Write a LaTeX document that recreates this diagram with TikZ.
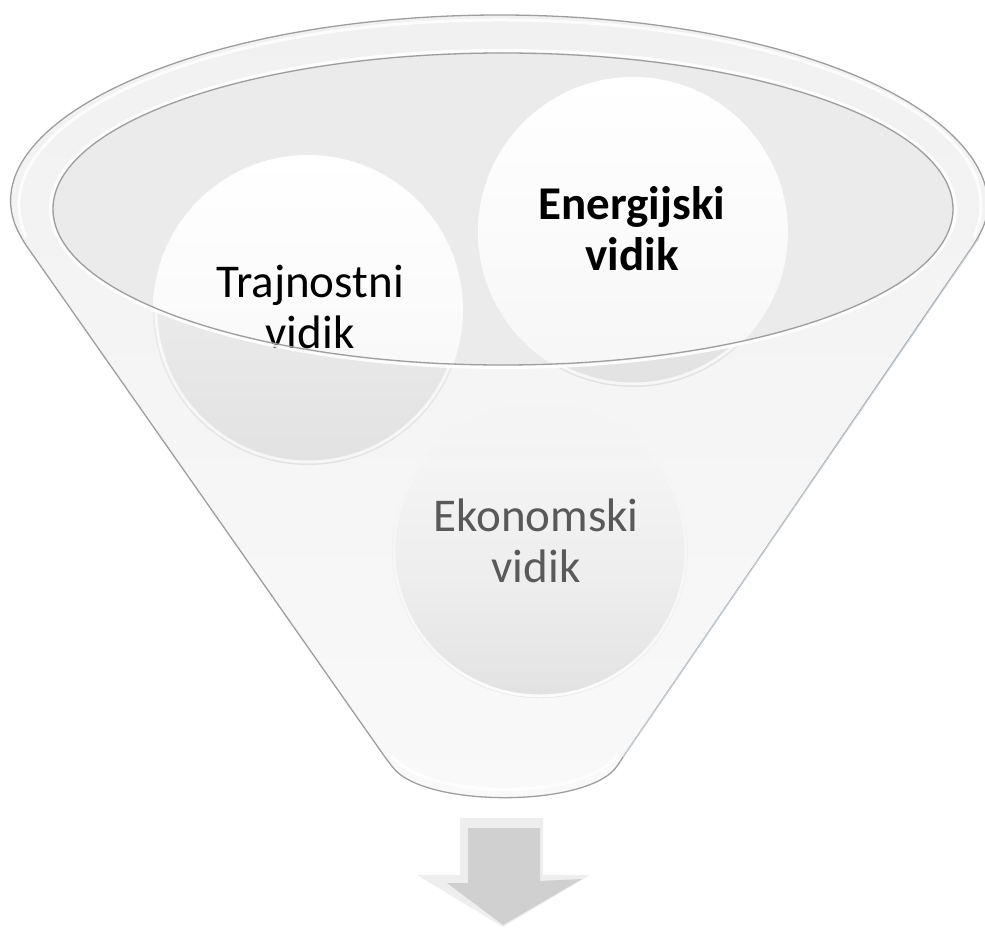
\documentclass[tikz,border=0pt]{standalone}
\usepackage{fontspec}
\setmainfont{Carlito}
\usetikzlibrary{fadings}
\definecolor{gline}{HTML}{9E9E9E}
\definecolor{fsurf}{HTML}{F1F1F1}
\definecolor{fbot}{HTML}{F9F9F9}
\definecolor{finner}{HTML}{EBEBEB}
\definecolor{cwbot}{HTML}{F6F6F6}
\definecolor{clowtop}{HTML}{F2F2F2}
\definecolor{clowbot}{HTML}{E2E2E2}
\definecolor{ektop}{HTML}{F0F0F0}
\definecolor{ekbot}{HTML}{E2E2E2}
\definecolor{ektext}{HTML}{595959}
\definecolor{abevel}{HTML}{EEEEEE}
\definecolor{aface}{HTML}{D0D0D0}
\definecolor{rline}{HTML}{C9D2DA}
\begin{document}
\begin{tikzpicture}[x=1pt,y=-1pt,
  txt/.style={font=\fontsize{47}{51}\selectfont, align=center, inner sep=0pt},
  rimline/.style={draw=gline, line width=1.3pt},
  hilite/.style={draw=white, line width=3pt}]
\useasboundingbox (0,0) rectangle (985,928);

% funnel silhouette
\path[top color=fsurf, bottom color=fbot, rimline, rounded corners=10pt]
  (21,238) arc[start angle=170,end angle=370,x radius=486,y radius=190]
  -- (623,757) .. controls (590,808) and (425,808) .. (387,760) -- cycle;
\draw[rline, line width=1pt] (979,238) -- (623,757);
% rim highlight
\draw[hilite, opacity=.8] (26.3,237.1) arc[start angle=170,end angle=370,x radius=481,y radius=185];
% bottom highlight
\draw[white, line width=3pt, opacity=.8] (392,756) .. controls (428,801) and (588,801) .. (618,754);

% inner ellipse (mouth)
\fill[finner] (503,209) ellipse[x radius=450,y radius=156];

% circles, part inside the mouth
\begin{scope}
  \clip (503,209) ellipse[x radius=450,y radius=156];
  \shade[top color=white, bottom color=cwbot] (308,310) circle[radius=155];
  \shade[top color=white, bottom color=cwbot] (633,232) circle[radius=155];
\end{scope}

% circles, part below the mouth (under the funnel front)
\begin{scope}
  \clip (53,209) arc[start angle=180,end angle=0,x radius=450,y radius=156]
     -- (990,209) -- (990,930) -- (-5,930) -- (-5,209) -- cycle;
  \shade[top color=clowtop, bottom color=clowbot] (308,310) circle[radius=155];
  \draw[hilite, opacity=.7] (308,310) circle[radius=152];
  \shade[top color=clowtop, bottom color=clowbot] (633,232) circle[radius=155];
  \draw[hilite, opacity=.7] (633,232) circle[radius=152];
\end{scope}

% Ekonomski circle, fading out towards the top
\shade[top color=ektop, bottom color=ekbot, path fading=north] (540,550) circle[radius=148];
\draw[white, line width=3pt, opacity=.9, path fading=north] (540,550) circle[radius=146];

% texts
\node[txt] (trajnostni) at (310,307) {Trajnostni\\vidik};
\node[txt, font=\fontsize{47}{51}\selectfont\bfseries] (energijski) at (632,229) {Energijski\\vidik};
\node[txt, text=ektext] (ekonomski) at (536,541) {Ekonomski\\vidik};

% mouth outline
\draw[hilite, opacity=.9] (503,209) ellipse[x radius=452.5,y radius=158.5];
\draw[rimline] (503,209) ellipse[x radius=450,y radius=156];

% arrow
\fill[abevel] (460,818) -- (543,818) -- (543,875) -- (590,875) -- (503,927)
  -- (417,875) -- (460,875) -- cycle;
\fill[aface] (468,828) -- (540,828) -- (540,881) -- (582,879) -- (503,925)
  -- (447,883) -- (468,883) -- cycle;
\end{tikzpicture}
\end{document}
